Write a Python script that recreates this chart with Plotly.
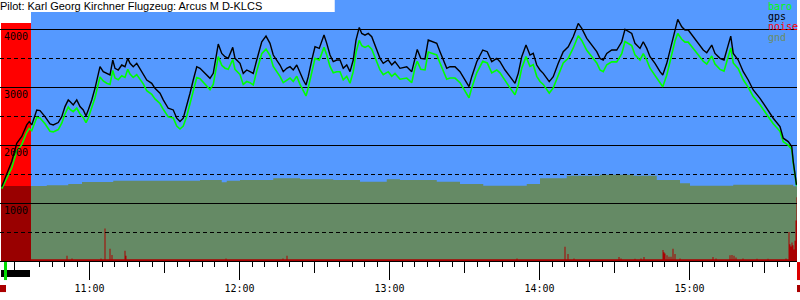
import plotly.graph_objects as go
import pandas as pd

BASE = pd.Timestamp("2016-06-01 10:00:00")

TITLE = "Pilot: Karl Georg Kirchner Flugzeug: Arcus M D-KLCS"

# ---- flight trace: minutes after 10:00, GPS altitude, baro altitude (m)
minutes = [24.9, 26.9, 28.9, 30.9, 32.9, 34.9, 35.9, 36.9, 38.9, 40.2, 42.2, 44.2, 45.5, 47.5, 48.9,
           50.2, 51.5, 52.2, 53.5, 54.9, 56.2, 57.5, 58.6, 59.5, 60.9, 62.2, 64.2, 65.5, 66.9, 68.2,
           69.3, 70.2, 71.5, 72.9, 74.2, 75.3, 76.2, 77.5, 78.9, 80.2, 81.5, 82.9, 84.9, 86.2, 88.2,
           89.5, 91.5, 93.5, 94.9, 96.2, 97.5, 98.9, 100.2, 101.5, 102.9, 104.2, 106.2, 108.2, 109.5,
           110.9, 111.5, 112.9, 114.2, 115.5, 117.3, 118.2, 120.2, 121.5, 122.9, 124.2, 125.5, 126.9,
           128.9, 130.6, 132.2, 133.5, 134.9, 136.2, 137.5, 138.9, 140.2, 141.5, 142.9, 144.2, 145.5,
           146.6, 147.5, 148.9, 150.2, 151.9, 153.8, 154.9, 156.2, 157.5, 158.9, 160.2, 161.5, 162.9,
           164.2, 165.5, 166.6, 167.9, 168.9, 170.2, 171.5, 172.9, 174.2, 176.2, 177.5, 179.5, 180.9,
           182.2, 184.2, 185.5, 186.9, 188.9, 190.2, 191.1, 192.5, 194.2, 195.5, 196.9, 198.9, 200.2,
           201.5, 202.9, 204.2, 206.2, 208.2, 210.2, 211.8, 212.9, 214.9, 217.3, 219.1, 220.9, 222.9,
           224.2, 226.2, 228.2, 230.2, 231.5, 232.9, 234.6, 236.2, 237.5, 238.9, 240.2, 241.5, 243.9,
           245.5, 247.5, 249.5, 251.5, 253.5, 255.5, 256.9, 258.9, 260.9, 262.9, 264.2, 265.5, 266.9,
           268.9, 270.9, 272.9, 274.2, 275.5, 276.9, 278.2, 280.2, 281.5, 282.9, 284.2, 286.2, 288.2,
           289.3, 290.9, 292.9, 294.2, 295.3, 296.9, 298.2, 299.5, 301.5, 303.5, 305.5, 306.9, 308.9,
           310.2, 312.2, 313.8, 314.9, 316.5, 317.5, 319.5, 321.5, 323.5, 325.5, 328.2, 330.9, 333.5,
           336.2, 337.5, 339.5, 340.9, 341.5, 342.2, 342.8]
gps = [1287, 1517, 1718, 2034, 2150, 2350, 2408, 2350, 2609, 2597, 2494, 2368, 2350, 2391, 2494,
       2667, 2782, 2753, 2695, 2782, 2667, 2609, 2506, 2609, 2782, 2983, 3356, 3270, 3241, 3213,
       3471, 3328, 3299, 3385, 3356, 3500, 3414, 3356, 3414, 3328, 3241, 3126, 3069, 2983, 2897,
       2782, 2638, 2609, 2466, 2408, 2466, 2667, 2897, 3126, 3356, 3328, 3241, 3155, 3241,
       3644, 3747, 3586, 3529, 3500, 3690, 3500, 3414, 3241, 3299, 3270, 3241, 3471,
       3787, 3885, 3759, 3557, 3471, 3385, 3270, 3328, 3356, 3299, 3385, 3241, 3126,
       3040, 3184, 3471, 3701, 3672, 3902, 3759, 3557, 3443, 3471, 3471, 3328, 3385,
       3270, 3471, 3816, 4034, 3931, 3902, 3931, 3874, 3730, 3500, 3414, 3471, 3385,
       3443, 3328, 3340, 3356, 3270, 3529, 3655, 3500, 3490, 3816, 3787, 3759, 3615,
       3471, 3328, 3356, 3356, 3270, 3126, 3012, 3184, 3443, 3644, 3615, 3443, 3500,
       3443, 3299, 3184, 3069, 3241, 3529, 3730, 3557, 3586, 3385, 3299, 3241, 3098,
       3184, 3414, 3615, 3701, 3874, 4103, 4017, 3845, 3730, 3615, 3500, 3471, 3586,
       3644, 3644, 3787, 4000, 3960, 3931, 3759, 3672, 3787, 3672, 3529, 3414, 3270,
       3213, 3414, 3759, 4017, 4172, 4046, 3989, 3989, 3874, 3759, 3644, 3598, 3730,
       3586, 3500, 3471, 3644, 3885, 3586, 3471, 3270, 3126, 2954, 2810, 2638, 2466,
       2322, 2121, 2063, 1977, 1718, 1460, 1316]
baro = [1250, 1420, 1610, 1900, 2010, 2220, 2290, 2250, 2480, 2470, 2370, 2240, 2230, 2270, 2380,
        2540, 2660, 2620, 2580, 2640, 2540, 2480, 2390, 2470, 2640, 2820, 3180, 3110, 3070, 3050,
        3290, 3160, 3130, 3200, 3170, 3310, 3230, 3170, 3220, 3140, 3060, 2940, 2880, 2800, 2720,
        2620, 2490, 2470, 2330, 2280, 2330, 2500, 2720, 2940, 3170, 3150, 3060, 2960, 3050,
        3440, 3530, 3380, 3330, 3310, 3480, 3310, 3220, 3050, 3100, 3080, 3040, 3280,
        3580, 3660, 3550, 3360, 3280, 3190, 3080, 3130, 3160, 3100, 3190, 3050, 2940,
        2850, 2990, 3270, 3500, 3470, 3690, 3560, 3360, 3250, 3270, 3270, 3130, 3190,
        3070, 3270, 3600, 3810, 3720, 3690, 3720, 3660, 3520, 3300, 3220, 3270, 3190,
        3240, 3140, 3150, 3160, 3080, 3340, 3450, 3310, 3300, 3610, 3590, 3560, 3420,
        3280, 3140, 3160, 3160, 3080, 2930, 2820, 2990, 3250, 3450, 3420, 3250, 3300,
        3250, 3110, 2990, 2870, 3040, 3330, 3530, 3360, 3390, 3190, 3100, 3050, 2900,
        2990, 3220, 3420, 3500, 3680, 3890, 3810, 3640, 3530, 3420, 3300, 3270, 3390,
        3440, 3440, 3580, 3790, 3750, 3720, 3560, 3470, 3580, 3470, 3330, 3210, 3070,
        3010, 3210, 3550, 3800, 3930, 3830, 3780, 3780, 3670, 3560, 3450, 3400, 3540,
        3400, 3310, 3280, 3460, 3680, 3420, 3320, 3130, 3000, 2840, 2700, 2530, 2370,
        2240, 2060, 2000, 1930, 1690, 1440, 1300]

# ---- terrain elevation under the track (m)
gnd_minutes = [36.6, 42.9, 51.5, 57.0, 69.5, 104.2, 112.2, 112.9, 114.9, 120.2, 133.5, 138.9, 144.2,
               157.5, 168.2, 178.9, 184.2, 197.5, 198.9, 204.2, 208.2, 217.5, 230.9, 234.9, 240.2,
               250.9, 264.2, 276.2, 277.5, 284.2, 286.9, 290.9, 296.2, 300.2, 310.9, 317.5, 337.5,
               341.5, 343.0]
gnd = [1295, 1310, 1330, 1364, 1387, 1399, 1399, 1360, 1385, 1399, 1428, 1428, 1410,
       1399, 1370, 1410, 1399, 1399, 1370, 1370, 1330, 1301, 1301, 1330, 1428,
       1474, 1490, 1497, 1474, 1474, 1399, 1399, 1341, 1301, 1301, 1318, 1318,
       1290, 1290]

# ---- noise level spikes (scaled to altitude axis)
noise_minutes = [51.0, 53.0, 64.6, 66.2, 68.2, 69.0, 74.2, 74.6, 114.6, 137.4, 139.0, 231.0, 250.2,
                 251.4, 253.8, 271.8, 272.6, 278.2, 280.6, 281.8, 289.4, 289.8, 290.2, 291.0, 291.8,
                 292.6, 293.4, 294.2, 296.2, 309.4, 310.6, 316.2, 317.0, 317.8, 318.6, 321.4, 327.0,
                 331.4, 338.6, 339.8, 340.2, 340.6, 341.0, 341.4, 341.8, 342.2, 342.6, 343.0]
noise = [90, 45, 45, 560, 210, 105, 175, 90, 45, 45, 90, 45, 245,
         120, 45, 70, 45, 40, 45, 70, 190, 150, 130, 100, 75,
         75, 210, 120, 45, 70, 45, 100, 105, 90, 60, 45, 40,
         40, 45, 500, 290, 250, 320, 270, 200, 350, 700, 1100]
NOISE_FLOOR = 30
SPIKE_HALF = 0.2  # minutes

# segment markers (minutes after 10:00)
PLOT_START, PLOT_END = 24.2, 343.0
RED_START, FLIGHT_START = 24.6, 36.6
Y_MAX = 4508
RED_TOP = 4110

LEGEND = [("baro", "#00ff00"), ("gps", "#000000"), ("noise", "#ff0000"), ("gnd", "#6a8c64")]

BLUE = "#5599ff"
RED = "#ff0000"
DARKRED = "#990000"
NOISE_COL = "#aa0000"
GND_COL = "#658a65"
MONO = "DejaVu Sans Mono"


def t(m):
    return BASE + pd.to_timedelta(m, unit="min")


def tl(ms):
    return [t(m) for m in ms]


# step series for the noise area (floor with narrow spikes)
nx, ny = [t(FLIGHT_START)], [NOISE_FLOOR]
for m, v in zip(noise_minutes, noise):
    nx += [t(m - SPIKE_HALF), t(m + SPIKE_HALF)]
    ny += [v, NOISE_FLOOR]

fig = go.Figure()

# subplot 1: terrain + noise
fig.add_trace(go.Scatter(x=tl(gnd_minutes), y=gnd, mode="lines", line=dict(width=0, shape="hv"),
                         fill="tozeroy", fillcolor=GND_COL, hoverinfo="skip", xaxis="x", yaxis="y"))
fig.add_trace(go.Scatter(x=nx, y=ny, mode="lines", line=dict(width=0, shape="hv"),
                         fill="tozeroy", fillcolor=NOISE_COL, xaxis="x", yaxis="y"))

# subplot 2: altitude traces (its grid lies above the terrain)
fig.add_trace(go.Scatter(x=tl(minutes), y=baro, mode="lines", line=dict(color="#00ff00", width=1.6),
                         xaxis="x2", yaxis="y2"))
fig.add_trace(go.Scatter(x=tl(minutes), y=gps, mode="lines", line=dict(color="#000000", width=1.4),
                         xaxis="x2", yaxis="y2"))

shapes = [
    dict(type="rect", xref="x", yref="y", x0=t(FLIGHT_START), x1=t(PLOT_END), y0=0, y1=Y_MAX,
         fillcolor=BLUE, line=dict(width=0), layer="below"),
    dict(type="rect", xref="x", yref="y", x0=t(RED_START), x1=t(FLIGHT_START), y0=0, y1=RED_TOP,
         fillcolor=RED, line=dict(width=0), layer="below"),
    dict(type="rect", xref="x", yref="y", x0=t(RED_START), x1=t(FLIGHT_START), y0=0, y1=gnd[0],
         fillcolor=DARKRED, line=dict(width=0), layer="below"),
    # title band
    dict(type="rect", xref="paper", yref="paper", x0=0, x1=0.42, y0=1 - 12 / 261, y1=1,
         fillcolor="white", line=dict(width=0), layer="above"),
    # status bars below the time axis
    dict(type="rect", xref="x", yref="paper", x0=t(24.6), x1=t(36.2), y0=-0.0345, y1=-0.0613,
         fillcolor="black", line=dict(width=0), layer="above"),
    dict(type="rect", xref="x", yref="paper", x0=t(25.8), x1=t(27.0), y0=-0.004, y1=-0.073,
         fillcolor="#00dd00", line=dict(width=0), layer="above"),
    dict(type="rect", xref="paper", yref="paper", x0=0, x1=6 / 797, y0=-0.092, y1=-0.119,
         fillcolor=NOISE_COL, line=dict(width=0), layer="above"),
    dict(type="rect", xref="paper", yref="paper", x0=1.0, x1=1.004, y0=-0.004, y1=-0.073,
         fillcolor="#dd0000", line=dict(width=0), layer="above"),
    dict(type="rect", xref="paper", yref="paper", x0=1.0, x1=1.004, y0=-0.092, y1=-0.119,
         fillcolor=NOISE_COL, line=dict(width=0), layer="above"),
]

annotations = []
for i, (name, col) in enumerate(LEGEND):
    annotations.append(dict(text=name, xref="paper", yref="paper", x=768 / 797, y=(261 - 6.5 - 10.2 * i) / 261,
                            xanchor="left", yanchor="middle", showarrow=False, borderpad=0, borderwidth=0,
                            font=dict(family=MONO, size=10, color=col)))

xr = [t(PLOT_START), t(PLOT_END)]
fig.update_layout(
    width=800, height=300, autosize=False,
    margin=dict(l=0, r=3, t=0, b=39, pad=0),
    paper_bgcolor="white", plot_bgcolor="rgba(0,0,0,0)",
    showlegend=False,
    title=dict(text=TITLE, x=0, xref="container", xanchor="left", y=1 - 6.5 / 300, yref="container",
               yanchor="middle", font=dict(family="Liberation Sans", size=11, color="black")),
    xaxis=dict(type="date", range=xr, domain=[0, 1], anchor="y", showgrid=False, zeroline=False,
               showline=True, linecolor="black", linewidth=1,
               ticks="outside", ticklen=18, tickwidth=1, tickcolor="black",
               tick0=t(0), dtick=3600000, tickformat="%H:%M",
               tickfont=dict(family=MONO, size=10, color="black"),
               minor=dict(ticks="outside", ticklen=11, tickwidth=1, tickcolor="black", dtick=1800000,
                          tick0=t(0), showgrid=False)),
    xaxis2=dict(type="date", matches="x", domain=[0, 1], anchor="y2", showgrid=False, zeroline=False,
                showline=False, ticks="outside", ticklen=5, tickwidth=1, tickcolor="black",
                tick0=t(0), dtick=300000, showticklabels=False),
    yaxis=dict(range=[0, Y_MAX], domain=[0, 1], anchor="x", showgrid=False, zeroline=False,
               showticklabels=False, ticks=""),
    yaxis2=dict(range=[0, Y_MAX], domain=[0, 1], anchor="x2", zeroline=False, showline=False,
                tickmode="array", tickvals=[1000, 2000, 3000, 4000], ticks="",
                ticklabelposition="inside bottom", ticklabelstandoff=1,
                tickfont=dict(family=MONO, size=10, color="black"),
                showgrid=True, gridcolor="black", gridwidth=1,
                minor=dict(tickmode="array", tickvals=[500, 1500, 2500, 3500], showgrid=True,
                           gridcolor="black", gridwidth=1, griddash="4px,3px")),
    shapes=shapes,
    annotations=annotations,
)

fig.write_html("out.html")
